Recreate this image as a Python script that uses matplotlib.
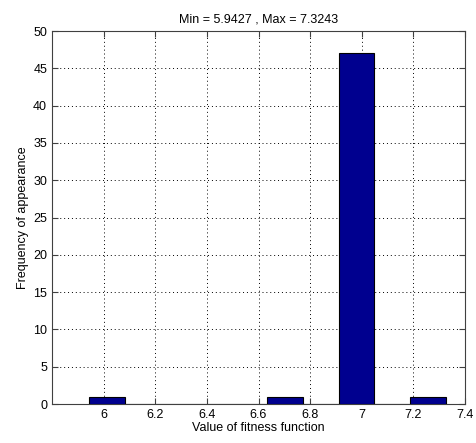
import numpy as np
import matplotlib.pyplot as plt

plt.rcParams['font.family'] = ['Liberation Sans', 'DejaVu Sans']

# histogram of fitness values, 10 bins between min and max
fit_min = 5.9427
fit_max = 7.3243
counts = [1, 0, 0, 0, 0, 1, 0, 47, 0, 1]
x_ticks = [6, 6.2, 6.4, 6.6, 6.8, 7, 7.2, 7.4]
y_ticks = list(range(0, 51, 5))

edges = np.linspace(fit_min, fit_max, len(counts) + 1)
widths = np.diff(edges)

fig = plt.figure(figsize=(4.77, 4.43), dpi=100)
ax = fig.add_axes([0.109, 0.088, 0.866, 0.842])

ax.bar(edges[:-1], counts, width=widths, align='edge',
       color='#00008f', edgecolor='black', linewidth=0.8, zorder=3)

ax.set_xlim(5.8, 7.4)
ax.set_ylim(0, 50)
ax.set_xticks(x_ticks)
ax.set_xticklabels(['6', '6.2', '6.4', '6.6', '6.8', '7', '7.2', '7.4'])
ax.set_yticks(y_ticks)
ax.tick_params(direction='in', top=True, right=True, labelsize=9, length=4, color='#404040')
ax.grid(True, linestyle=(0, (1, 3)), color='black', linewidth=0.7, zorder=0)
for s in ax.spines.values():
    s.set_color('#404040')

ax.set_title('Min = %.4f , Max = %.4f' % (fit_min, fit_max), fontsize=9, pad=6)
ax.set_xlabel('Value of fitness function', fontsize=9, labelpad=1)
ax.set_ylabel('Frequency of appearance', fontsize=9, labelpad=3)

fig.savefig('out.png', dpi=100)
